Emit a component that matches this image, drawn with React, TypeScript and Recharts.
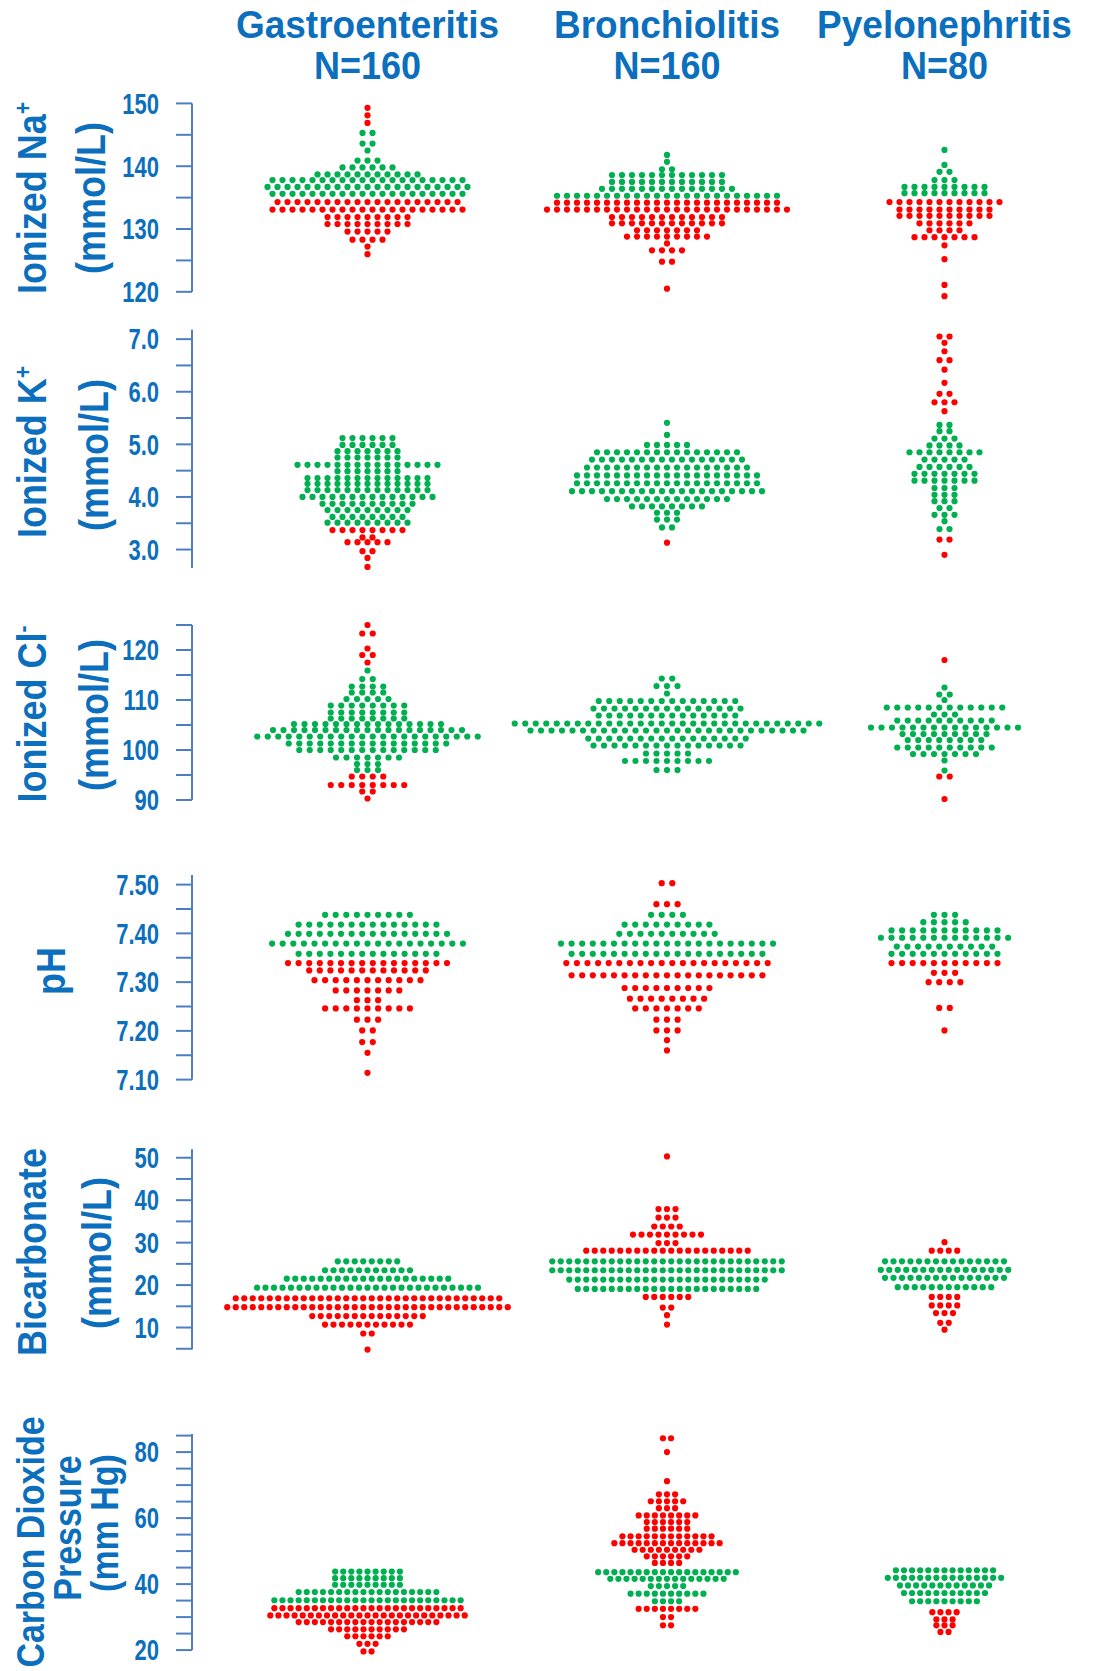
import React from "react";
import { ScatterChart, Scatter, XAxis, YAxis, ReferenceLine } from "recharts";

// rows: [value, dot count, 1 = abnormal (red) / 0 = normal (green)]
type Row = [number, number, number];

const GROUPS = ["Gastroenteritis", "Bronchiolitis", "Pyelonephritis"];
const GROUP_N = ["N=160", "N=160", "N=80"];

const NA_GAS: Row[] = [[149.3,1,1],[148.1,1,1],[146.9,1,1],[145.3,2,0],[143.6,2,0],[142.5,1,0],[140.9,3,0],[139.8,6,0],[138.7,11,0],[137.8,20,0],[136.7,21,0],[135.6,20,0],[134.3,19,1],[133.1,20,1],[131.9,9,1],[130.8,9,1],[129.6,5,1],[128.3,4,1],[127.2,1,1],[126,1,1]];
const NA_BRO: Row[] = [[141.8,1,0],[140.7,1,0],[139.5,2,0],[138.6,12,0],[137.5,12,0],[136.4,14,0],[135.3,23,0],[134.2,23,1],[133.1,25,1],[131.9,12,1],[130.9,12,1],[129.8,7,1],[128.8,9,1],[127.7,1,1],[126.6,4,1],[124.8,2,1],[120.5,1,1]];
const NA_PYE: Row[] = [[142.6,1,0],[140.2,1,0],[139.1,2,0],[137.8,3,0],[136.7,9,0],[135.7,9,0],[134.3,12,1],[133.1,10,1],[132.1,10,1],[130.9,6,1],[129.8,4,1],[128.7,7,1],[127.4,1,1],[125.2,1,1],[121.1,1,1],[119.3,1,1]];

const K_GAS: Row[] = [[5.12,6,0],[4.99,6,0],[4.87,7,0],[4.75,7,0],[4.61,15,0],[4.49,7,0],[4.36,13,0],[4.25,13,0],[4.13,13,0],[4.0,14,0],[3.87,10,0],[3.75,9,0],[3.62,8,0],[3.51,9,0],[3.37,8,1],[3.23,2,1],[3.14,5,1],[2.97,2,1],[2.84,1,1],[2.67,1,1]];
const K_BRO: Row[] = [[5.41,1,0],[5.18,1,0],[4.99,5,0],[4.85,15,0],[4.71,16,0],[4.56,17,0],[4.41,19,0],[4.26,19,0],[4.11,20,0],[3.96,13,0],[3.82,8,0],[3.7,3,0],[3.57,3,0],[3.42,2,0],[3.13,1,1]];
const K_PYE: Row[] = [[7.05,2,1],[6.93,1,1],[6.77,1,1],[6.6,2,1],[6.42,1,1],[6.17,1,1],[5.96,2,1],[5.8,3,1],[5.63,1,1],[5.37,2,0],[5.25,2,0],[5.11,3,0],[4.98,4,0],[4.85,8,0],[4.71,5,0],[4.57,6,0],[4.44,7,0],[4.31,7,0],[4.17,3,0],[4.04,3,0],[3.92,3,0],[3.79,2,0],[3.66,3,0],[3.54,1,0],[3.39,2,0],[3.19,2,1],[2.9,1,1]];

const CL_GAS: Row[] = [[125,1,1],[123.3,2,1],[120.3,1,1],[119,2,1],[117.5,1,1],[115.9,1,0],[114.2,2,0],[112.7,4,0],[111.5,4,0],[110.2,5,0],[108.9,8,0],[107.5,8,0],[106.3,8,0],[105.2,15,0],[104,19,0],[102.7,22,0],[101.3,16,0],[100,14,0],[98.5,7,0],[97.2,3,0],[96,3,0],[94.7,4,1],[93,8,1],[91.7,2,1],[90.3,1,1]];
const CL_BRO: Row[] = [[114.3,2,0],[112.8,3,0],[111.3,1,0],[109.8,14,0],[108.3,15,0],[106.9,14,0],[105.3,30,0],[103.9,27,0],[102.3,16,0],[100.9,15,0],[99.3,5,0],[97.8,9,0],[96,3,0]];
const CL_PYE: Row[] = [[118,1,1],[112.5,1,0],[111.1,2,0],[110,1,0],[108.5,12,0],[107.1,3,0],[105.9,10,0],[104.5,15,0],[103.2,9,0],[102,8,0],[100.5,10,0],[99.2,7,0],[97.9,1,0],[95.9,1,0],[94.7,2,1],[90.2,1,1]];

const PH_GAS: Row[] = [[7.438,9,0],[7.418,14,0],[7.399,16,0],[7.379,19,0],[7.358,14,0],[7.339,16,1],[7.324,12,1],[7.304,11,1],[7.283,7,1],[7.263,3,1],[7.246,9,1],[7.223,3,1],[7.201,2,1],[7.177,2,1],[7.155,1,1],[7.114,1,1]];
const PH_BRO: Row[] = [[7.503,2,1],[7.46,3,1],[7.438,4,0],[7.418,9,0],[7.399,10,0],[7.379,21,0],[7.358,19,0],[7.339,20,1],[7.314,19,1],[7.288,9,1],[7.266,8,1],[7.246,7,1],[7.223,3,1],[7.201,3,1],[7.181,1,1],[7.16,1,1]];
const PH_PYE: Row[] = [[7.438,3,0],[7.423,5,0],[7.406,11,0],[7.391,13,0],[7.373,10,0],[7.358,11,0],[7.339,11,1],[7.319,3,1],[7.3,4,1],[7.247,2,1],[7.201,1,1]];

const HCO3_GAS: Row[] = [[25.6,8,0],[23.5,11,0],[21.5,20,0],[19.4,27,0],[16.9,32,1],[14.8,34,1],[12.7,14,1],[10.7,11,1],[8.6,2,1],[4.8,1,1]];
const HCO3_BRO: Row[] = [[50.3,1,1],[37.9,3,1],[35.9,3,1],[33.8,4,1],[31.9,9,1],[29.9,3,1],[28.1,20,1],[25.6,28,0],[23.5,28,0],[21.3,24,0],[19.1,22,0],[17.2,6,1],[14.7,2,1],[12.9,1,1],[10.7,1,1]];
const HCO3_PYE: Row[] = [[30.1,1,1],[28.1,4,1],[25.6,15,0],[23.6,16,0],[21.7,15,0],[19.5,12,0],[17.2,4,1],[15.2,4,1],[13.4,3,1],[11.1,2,1],[9.5,1,1]];

const PCO2_GAS: Row[] = [[43.8,9,0],[41.8,9,0],[39.8,9,0],[37.6,18,0],[35.1,24,0],[32.7,24,1],[30.5,25,1],[28.5,18,1],[26.3,10,1],[24.2,6,1],[21.9,3,1],[19.6,2,1]];
const PCO2_BRO: Row[] = [[84.2,2,1],[80,1,1],[71.2,1,1],[67.2,3,1],[65.1,5,1],[63,3,1],[60.8,8,1],[58.8,6,1],[56.8,6,1],[54.5,12,1],[52.4,14,1],[50.4,9,1],[48.4,6,1],[46.4,4,1],[43.6,18,0],[41.6,15,0],[39.4,5,0],[37.1,10,0],[34.8,4,0],[32.5,8,1],[30,2,1],[27.5,2,1]];
const PCO2_PYE: Row[] = [[44.2,13,0],[41.9,15,0],[39.6,12,0],[37.3,11,0],[34.8,9,0],[31.5,4,1],[29.3,3,1],[27.5,3,1],[25.5,2,1]];

const NA_TICKS = [120, 125, 130, 135, 140, 145, 150];
const NA_LABELS = [120, 130, 140, 150];
const K_TICKS = [3, 3.5, 4, 4.5, 5, 5.5, 6, 6.5, 7];
const K_LABELS = [3, 4, 5, 6, 7];
const CL_TICKS = [90, 95, 100, 105, 110, 115, 120, 125];
const CL_LABELS = [90, 100, 110, 120];
const PH_TICKS = [7.1, 7.15, 7.2, 7.25, 7.3, 7.35, 7.4, 7.45, 7.5];
const PH_LABELS = [7.1, 7.2, 7.3, 7.4, 7.5];
const HCO3_TICKS = [5, 10, 15, 20, 25, 30, 35, 40, 45, 50];
const HCO3_LABELS = [10, 20, 30, 40, 50];
const PCO2_TICKS = [20, 25, 30, 35, 40, 45, 50, 55, 60, 65, 70, 75, 80, 85];
const PCO2_LABELS = [20, 40, 60, 80];

const RED = "#ff0000";
const GREEN = "#00b050";
const BLUE = "#0b6fbd";
const AXIS = "#4d7fc0";
const FONT = "'Liberation Sans', Arial, sans-serif";
const GROUP_X = [175.5, 475, 752.5]; // plot units (1 unit = 1px)
const PLOT_W = 900;
const AXIS_W = 192;
const PAD = 24;

interface Panel {
  rows: Row[][];
  ticks: number[];
  labels: number[];
  digits: number;
  v0: number; y0: number; s: number; // value v0 sits at page y0, s px per unit
  lo: number; hi: number; // scale domain
  a0: number; a1: number; // axis line extent
  step: number;
}

const PANELS: Panel[] = [
  { rows: [NA_GAS, NA_BRO, NA_PYE], ticks: NA_TICKS, labels: NA_LABELS, digits: 0, v0: 150, y0: 103.3, s: 6.28, lo: 118, hi: 151.5, a0: 120, a1: 150, step: 10 },
  { rows: [K_GAS, K_BRO, K_PYE], ticks: K_TICKS, labels: K_LABELS, digits: 1, v0: 7, y0: 339.5, s: 52.6, lo: 2.55, hi: 7.25, a0: 2.65, a1: 7.18, step: 10 },
  { rows: [CL_GAS, CL_BRO, CL_PYE], ticks: CL_TICKS, labels: CL_LABELS, digits: 0, v0: 120, y0: 650, s: 5, lo: 88, hi: 127, a0: 90, a1: 125, step: 10.5 },
  { rows: [PH_GAS, PH_BRO, PH_PYE], ticks: PH_TICKS, labels: PH_LABELS, digits: 2, v0: 7.5, y0: 885, s: 487.5, lo: 7.09, hi: 7.53, a0: 7.1, a1: 7.52, step: 10.6 },
  { rows: [HCO3_GAS, HCO3_BRO, HCO3_PYE], ticks: HCO3_TICKS, labels: HCO3_LABELS, digits: 0, v0: 50, y0: 1158, s: 4.245, lo: 3, hi: 53, a0: 4.8, a1: 52, step: 8.5 },
  { rows: [PCO2_GAS, PCO2_BRO, PCO2_PYE], ticks: PCO2_TICKS, labels: PCO2_LABELS, digits: 0, v0: 80, y0: 1451.7, s: 3.3, lo: 18, hi: 87, a0: 20, a1: 85.5, step: 8.1 },
];

const swarm = (rows: Row[], gx: number, step: number) =>
  rows.flatMap(([v, n, bad]) =>
    Array.from({ length: n }, (_, k) => ({ x: gx + (k - (n - 1) / 2) * step, y: v, c: bad ? RED : GREEN }))
  );

const Dot = (p: any) => <circle cx={p.cx} cy={p.cy} r={3.1} fill={p.payload.c} />;

const Tick = (p: any) => {
  const { x, y, payload, labels, digits } = p;
  if (!labels.some((l: number) => Math.abs(l - payload.value) < 1e-6)) return <g />;
  return (
    <text transform={`translate(${x},${y}) scale(1,1.3)`} dy="0.36em" textAnchor="end" fill={BLUE} fontSize={22} fontWeight="bold" fontFamily={FONT}>
      {Number(payload.value).toFixed(digits)}
    </text>
  );
};

const PanelChart = ({ p }: { p: Panel }) => {
  const top = p.y0 - (p.hi - p.v0) * p.s - PAD;
  const height = (p.hi - p.lo) * p.s + 2 * PAD;
  return (
    <div style={{ position: "absolute", left: 0, top }}>
      <ScatterChart width={AXIS_W + PLOT_W} height={height} margin={{ top: PAD, right: 0, bottom: PAD, left: 0 }}>
        <XAxis type="number" dataKey="x" domain={[0, PLOT_W]} hide />
        <YAxis
          type="number"
          dataKey="y"
          domain={[p.lo, p.hi]}
          ticks={p.ticks}
          interval={0}
          width={AXIS_W}
          axisLine={false}
          tickLine={{ stroke: AXIS, strokeWidth: 2 }}
          tickSize={16}
          tickMargin={17}
          tick={<Tick labels={p.labels} digits={p.digits} />}
        />
        <ReferenceLine segment={[{ x: 0, y: p.a0 }, { x: 0, y: p.a1 }]} stroke={AXIS} strokeWidth={2} ifOverflow="visible" />
        {p.rows.map((rows, g) => (
          <Scatter key={g} data={swarm(rows, GROUP_X[g], p.step)} shape={Dot} isAnimationActive={false} />
        ))}
      </ScatterChart>
    </div>
  );
};

const yTitles: { x: number; y: number; text: string; sup?: string; size?: number }[] = [
  { x: 33, y: 198, text: "Ionized Na", sup: "+" },
  { x: 92, y: 198, text: "(mmol/L)" },
  { x: 33, y: 452, text: "Ionized K", sup: "+" },
  { x: 95, y: 455, text: "(mmol/L)" },
  { x: 33, y: 714, text: "Ionized Cl", sup: "-" },
  { x: 95, y: 715, text: "(mmol/L)" },
  { x: 52, y: 971, text: "pH" },
  { x: 33, y: 1252, text: "Bicarbonate" },
  { x: 98, y: 1253, text: "(mmol/L)" },
  { x: 31, y: 1542, text: "Carbon Dioxide", size: 34 },
  { x: 68, y: 1528, text: "Pressure", size: 34 },
  { x: 105, y: 1523, text: "(mm Hg)", size: 34 },
];

export default function App() {
  return (
    <div style={{ position: "absolute", left: 0, top: 0, width: 1093, height: 1671, background: "#fff", fontFamily: FONT }}>
      {PANELS.map((p, i) => (
        <PanelChart key={i} p={p} />
      ))}
      <svg width={1093} height={1671} style={{ position: "absolute", left: 0, top: 0, pointerEvents: "none" }}>
        {GROUPS.map((g, i) => (
          <g key={g} fill={BLUE} fontWeight="bold" fontFamily={FONT} textAnchor="middle">
            <text transform={`translate(${AXIS_W + GROUP_X[i]},38) scale(1,1.06)`} fontSize={37}>{g}</text>
            <text transform={`translate(${AXIS_W + GROUP_X[i]},79) scale(1,1.06)`} fontSize={36}>{GROUP_N[i]}</text>
          </g>
        ))}
        {yTitles.map((t, i) => (
          <text
            key={i}
            transform={`translate(${t.x + 13},${t.y}) rotate(-90) scale(1,1.15)`}
            textAnchor="middle"
            fill={BLUE}
            fontSize={t.size ?? 36}
            fontWeight="bold"
            fontFamily={FONT}
          >
            {t.text}
            {t.sup && <tspan dy={-13} fontSize={21}>{t.sup}</tspan>}
          </text>
        ))}
      </svg>
    </div>
  );
}
